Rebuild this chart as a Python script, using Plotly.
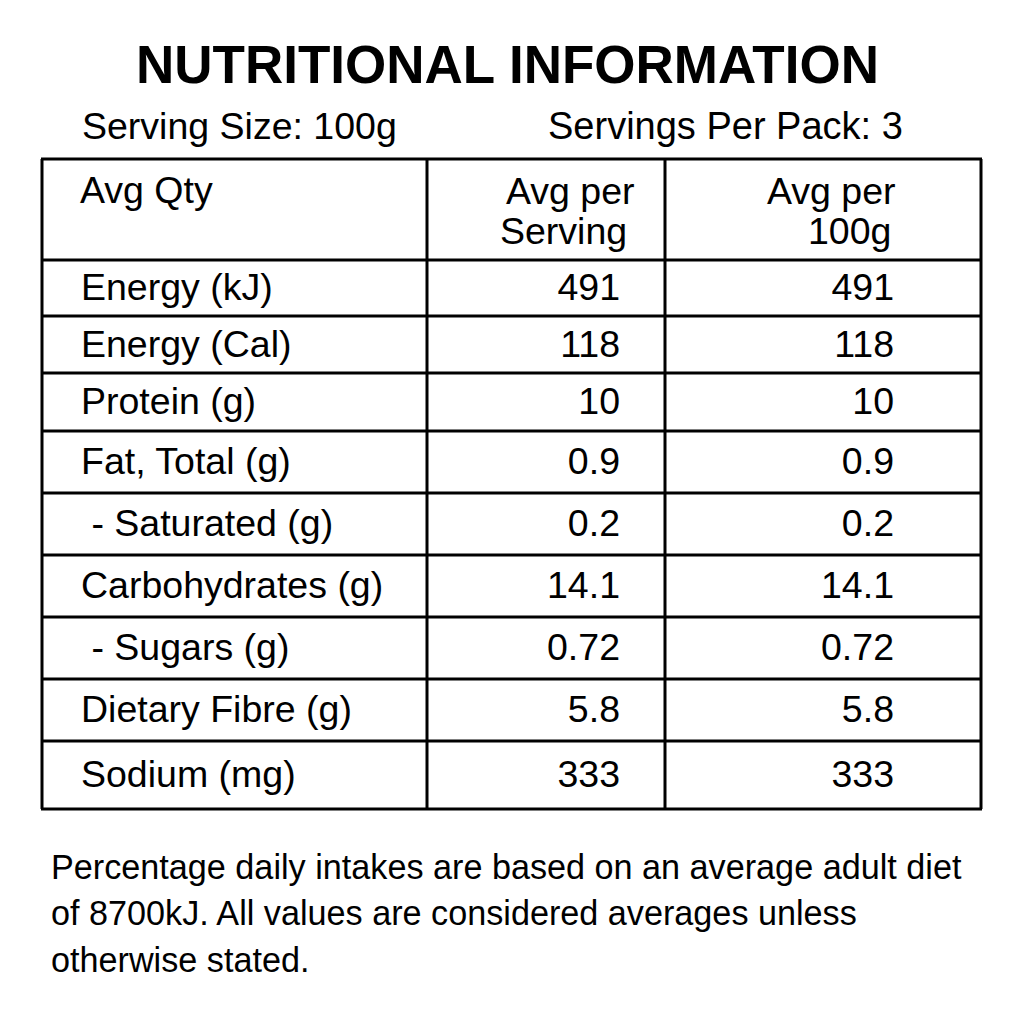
import plotly.graph_objects as go

# Datos de la tabla
title = "NUTRITIONAL INFORMATION"
serving_size = "Serving Size: 100g"
servings_per_pack = "Servings Per Pack: 3"

col_heads = ["Avg Qty", ["Avg per", "Serving"], ["Avg per", "100g"]]
nutrients = ["Energy (kJ)", "Energy (Cal)", "Protein (g)", "Fat, Total (g)",
             "\u00a0- Saturated (g)", "Carbohydrates (g)", "\u00a0- Sugars (g)",
             "Dietary Fibre (g)", "Sodium (mg)"]
per_serving = ["491", "118", "10", "0.9", "0.2", "14.1", "0.72", "5.8", "333"]
per_100g = ["491", "118", "10", "0.9", "0.2", "14.1", "0.72", "5.8", "333"]

footnote = ["Percentage daily intakes are based on an average adult diet",
            "of 8700kJ. All values are considered averages unless",
            "otherwise stated."]

# Geometria de la tabla (unidades del eje = pixeles de la ventana)
row_edges = [159, 260, 316, 373, 431, 493, 555, 617, 679, 741, 809]
col_edges = [42, 427, 665, 981]
row_mid = [(a + b) / 2 + 3 for a, b in zip(row_edges[1:-1], row_edges[2:])]

# la pagina tiene 8px de margen en el body: se compensa en el rango de los ejes
OFF = 8

FONT = "Liberation Sans, Arial, Helvetica, sans-serif"
cell_font = dict(family=FONT, size=37.5, color="black")

fig = go.Figure()

# Celdas de la tabla
fig.add_trace(go.Scatter(x=[81] * len(nutrients), y=row_mid, text=nutrients,
                         mode="text", textposition="middle right",
                         textfont=cell_font, hoverinfo="skip"))
fig.add_trace(go.Scatter(x=[620] * len(per_serving), y=row_mid, text=per_serving,
                         mode="text", textposition="middle left",
                         textfont=cell_font, hoverinfo="skip"))
fig.add_trace(go.Scatter(x=[894] * len(per_100g), y=row_mid, text=per_100g,
                         mode="text", textposition="middle left",
                         textfont=cell_font, hoverinfo="skip"))

# Lineas de la tabla
for y in row_edges:
    fig.add_shape(type="line", x0=col_edges[0] - 1, x1=col_edges[-1] + 1, y0=y, y1=y,
                  xref="x", yref="y", line=dict(color="black", width=3))
for x in col_edges:
    fig.add_shape(type="line", x0=x, x1=x, y0=row_edges[0], y1=row_edges[-1],
                  xref="x", yref="y", line=dict(color="black", width=3))

# Encabezados
fig.add_annotation(x=78, y=190, text=col_heads[0], xanchor="left", yanchor="middle",
                   showarrow=False, font=cell_font)
for xs, lines in zip([[570, 563], [831, 849]], col_heads[1:]):
    for xc, yc, t in zip(xs, [191, 231], lines):
        fig.add_annotation(x=xc, y=yc, text=t, xanchor="center", yanchor="middle",
                           showarrow=False, font=cell_font)

# Titulo y porciones
fig.add_annotation(x=507, y=64, text="<b>" + title + "</b>", showarrow=False,
                   xanchor="center", yanchor="middle",
                   font=dict(family=FONT, size=53, color="black"))
fig.add_annotation(x=80, y=126, text=serving_size, showarrow=False,
                   xanchor="left", yanchor="middle",
                   font=dict(family=FONT, size=37.5, color="black"))
fig.add_annotation(x=905, y=126, text=servings_per_pack, showarrow=False,
                   xanchor="right", yanchor="middle",
                   font=dict(family=FONT, size=38, color="black"))

# Nota al pie
for yc, t in zip([867, 913, 960], footnote):
    fig.add_annotation(x=49, y=yc, text=t, showarrow=False,
                       xanchor="left", yanchor="middle",
                       font=dict(family=FONT, size=34.2, color="black"))

fig.update_layout(
    width=1024, height=1024,
    margin=dict(l=0, r=0, t=0, b=0),
    paper_bgcolor="white", plot_bgcolor="white",
    showlegend=False,
    xaxis=dict(range=[OFF, 1024 + OFF], visible=False, fixedrange=True),
    yaxis=dict(range=[1024 + OFF, OFF], visible=False, fixedrange=True),
)

fig.write_html("out.html")
